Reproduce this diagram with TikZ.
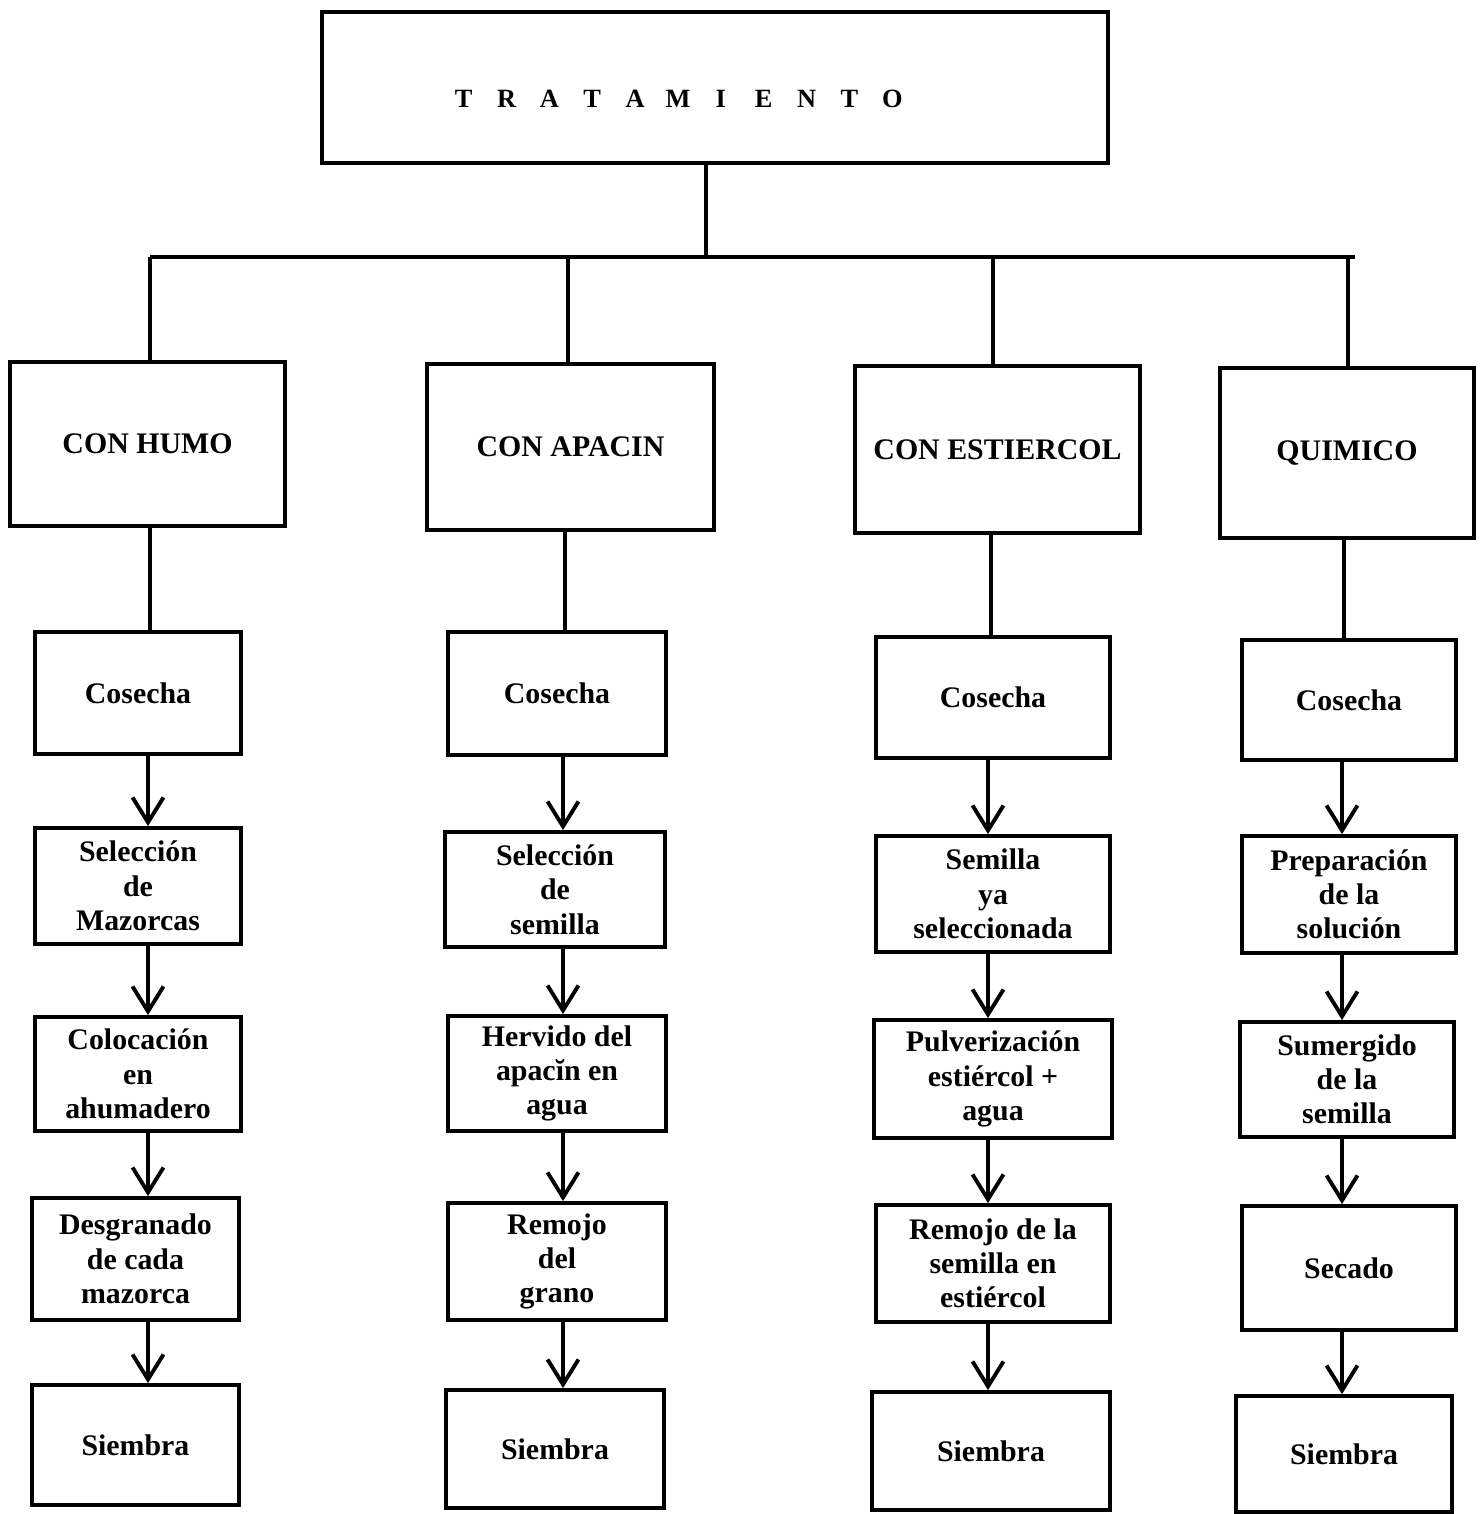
\documentclass[tikz,border=0pt]{standalone}
\usepackage{fontspec}
\setmainfont{Liberation Serif}
\usetikzlibrary{arrows.meta}
\newcommand\lsp[1]{\makebox[24.4pt]{#1}}
\begin{document}
\begin{tikzpicture}[x=0.02cm,y=-0.02cm,
  box/.style={draw, line width=2.2pt, align=center, inner sep=0pt,
    font=\bfseries\fontsize{17}{19.5}\selectfont},
  con/.style={line width=2.2pt},
  arr/.style={line width=2.2pt, -{Straight Barb[length=0.5cm,width=0.62cm]}}]
\useasboundingbox (0,0) rectangle (1483,1514);
% top
\node[box, minimum width=15.72cm, minimum height=3.02cm, font=\bfseries\fontsize{15}{18}\selectfont] (top) at (715,87.5)
  {\raisebox{-0.4cm}[0pt][0pt]{\lsp{T}\lsp{R}\lsp{A}\lsp{T}\lsp{A}\lsp{M}\lsp{I}\lsp{E}\lsp{N}\lsp{T}\lsp{O}}\hspace{1.48cm}};
% level 2
\node[box, minimum width=5.5cm, minimum height=3.28cm] (h1) at (147.5,444) {CON HUMO};
\node[box, minimum width=5.74cm, minimum height=3.32cm] (h2) at (570.5,447) {CON APACIN};
\node[box, minimum width=5.7cm, minimum height=3.34cm] (h3) at (997.5,449.5) {CON ESTIERCOL};
\node[box, minimum width=5.08cm, minimum height=3.4cm] (h4) at (1347,453) {QUIMICO};
% bus
\coordinate (bm) at (706,257);
\coordinate (b1) at (150,257);
\coordinate (b2) at (568,257);
\coordinate (b3) at (993,257);
\coordinate (b4) at (1355,257);
\coordinate (b4d) at (1348,257);
\draw[con] (top.south -| bm) -- (bm);
\draw[con] (b1) -- (b4);
\draw[con] (b1) -- (b1 |- h1.north);
\draw[con] (b2) -- (b2 |- h2.north);
\draw[con] (b3) -- (b3 |- h3.north);
\draw[con] (b4d) -- (b4d |- h4.north);
% column 1
\node[box, minimum width=4.12cm, minimum height=2.44cm] (c1a) at (138,693) {Cosecha};
\node[box, minimum width=4.12cm, minimum height=2.32cm] (c1b) at (138,886) {Selección\\de\\Mazorcas};
\node[box, minimum width=4.12cm, minimum height=2.28cm] (c1c) at (138,1074) {Colocación\\en\\ahumadero};
\node[box, minimum width=4.14cm, minimum height=2.44cm] (c1d) at (135.5,1259) {Desgranado\\de cada\\mazorca};
\node[box, minimum width=4.14cm, minimum height=2.4cm] (c1e) at (135.5,1445) {Siembra};
% column 2
\node[box, minimum width=4.36cm, minimum height=2.46cm] (c2a) at (557,693.5) {Cosecha};
\node[box, minimum width=4.4cm, minimum height=2.3cm] (c2b) at (555,889.5) {Selección\\de\\semilla};
\node[box, minimum width=4.36cm, minimum height=2.3cm] (c2c) at (557,1073.5) {Hervido del\\apacĭn en\\agua};
\node[box, minimum width=4.36cm, minimum height=2.34cm] (c2d) at (557,1261.5) {Remojo\\del\\grano};
\node[box, minimum width=4.36cm, minimum height=2.36cm] (c2e) at (555,1449) {Siembra};
% column 3
\node[box, minimum width=4.68cm, minimum height=2.42cm] (c3a) at (993,697.5) {Cosecha};
\node[box, minimum width=4.68cm, minimum height=2.32cm] (c3b) at (993,894) {Semilla\\ya\\seleccionada};
\node[box, minimum width=4.76cm, minimum height=2.36cm] (c3c) at (993,1079) {Pulverización\\estiércol +\\agua};
\node[box, minimum width=4.68cm, minimum height=2.34cm] (c3d) at (993,1263.5) {Remojo de la\\semilla en\\estiércol};
\node[box, minimum width=4.76cm, minimum height=2.36cm] (c3e) at (991,1451) {Siembra};
% column 4
\node[box, minimum width=4.28cm, minimum height=2.4cm] (c4a) at (1349,700) {Cosecha};
\node[box, minimum width=4.28cm, minimum height=2.34cm] (c4b) at (1349,894.5) {Preparación\\de la\\solución};
\node[box, minimum width=4.28cm, minimum height=2.3cm] (c4c) at (1347,1079.5) {Sumergido\\de la\\semilla};
\node[box, minimum width=4.28cm, minimum height=2.48cm] (c4d) at (1349,1268) {Secado};
\node[box, minimum width=4.32cm, minimum height=2.32cm] (c4e) at (1344,1454) {Siembra};
% links level2 -> Cosecha
\coordinate (v1) at (150,0);
\coordinate (v2) at (565,0);
\coordinate (v3) at (991,0);
\coordinate (v4) at (1344,0);
\draw[con] (h1.south -| v1) -- (c1a.north -| v1);
\draw[con] (h2.south -| v2) -- (c2a.north -| v2);
\draw[con] (h3.south -| v3) -- (c3a.north -| v3);
\draw[con] (h4.south -| v4) -- (c4a.north -| v4);
% arrows
\coordinate (x1) at (148,0);
\coordinate (x2) at (563,0);
\coordinate (x3) at (988,0);
\coordinate (x4) at (1342,0);
\draw[arr] (c1a.south -| x1) -- (c1b.north -| x1);
\draw[arr] (c1b.south -| x1) -- (c1c.north -| x1);
\draw[arr] (c1c.south -| x1) -- (c1d.north -| x1);
\draw[arr] (c1d.south -| x1) -- (c1e.north -| x1);
\draw[arr] (c2a.south -| x2) -- (c2b.north -| x2);
\draw[arr] (c2b.south -| x2) -- (c2c.north -| x2);
\draw[arr] (c2c.south -| x2) -- (c2d.north -| x2);
\draw[arr] (c2d.south -| x2) -- (c2e.north -| x2);
\draw[arr] (c3a.south -| x3) -- (c3b.north -| x3);
\draw[arr] (c3b.south -| x3) -- (c3c.north -| x3);
\draw[arr] (c3c.south -| x3) -- (c3d.north -| x3);
\draw[arr] (c3d.south -| x3) -- (c3e.north -| x3);
\draw[arr] (c4a.south -| x4) -- (c4b.north -| x4);
\draw[arr] (c4b.south -| x4) -- (c4c.north -| x4);
\draw[arr] (c4c.south -| x4) -- (c4d.north -| x4);
\draw[arr] (c4d.south -| x4) -- (c4e.north -| x4);
\end{tikzpicture}
\end{document}
